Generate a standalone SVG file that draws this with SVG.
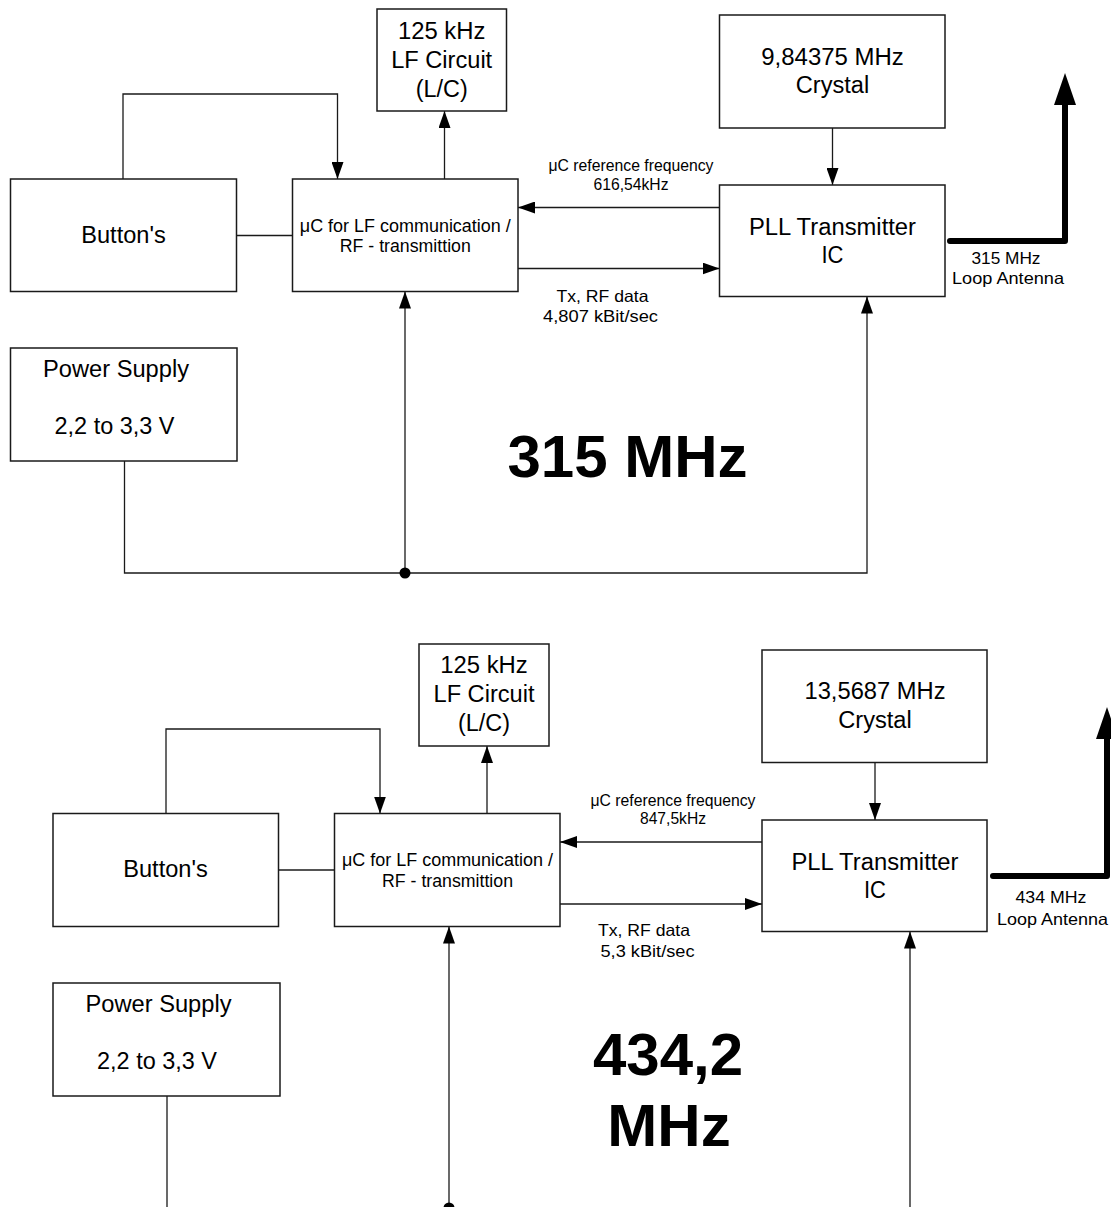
<svg xmlns="http://www.w3.org/2000/svg" width="1111" height="1207" viewBox="0 0 1111 1207">
<style>
.box{fill:#fff;stroke:#1a1a1a;stroke-width:1.5}
.ln{fill:none;stroke:#1a1a1a;stroke-width:1.3}
.arr{marker-end:url(#ah)}
.ant{fill:none;stroke:#000;stroke-width:6;stroke-linecap:round;stroke-linejoin:round;marker-end:url(#aah)}
text{font-family:"Liberation Sans",Arial,sans-serif;fill:#000;text-anchor:middle}
.tb{font-size:23.5px}
.tu{font-size:17.5px}
.ts{font-size:16.5px}
.big{font-size:60px;font-weight:bold}
</style>
<defs>
<marker id="ah" markerUnits="userSpaceOnUse" markerWidth="17" markerHeight="12" refX="17" refY="6" orient="auto" viewBox="0 0 17 12">
<path d="M0,0 L17,6 L0,12 z" fill="#000"/>
</marker>
<marker id="aah" markerUnits="userSpaceOnUse" markerWidth="32" markerHeight="22" refX="0" refY="11" orient="auto" viewBox="0 0 32 22">
<path d="M0,0 L32,11 L0,22 z" fill="#000"/>
</marker>
</defs>

<g id="connectors">
<!-- top (315 MHz) -->
<path class="ln arr" d="M123,179 V94 H337.5 V179"/>
<path class="ln" d="M236.5,235.5 H292.5"/>
<path class="ln arr" d="M444.5,179 V111"/>
<path class="ln arr" d="M719.5,207.5 H518"/>
<path class="ln arr" d="M518,268.5 H719.5"/>
<path class="ln arr" d="M832.5,128 V185"/>
<path class="ln arr" d="M124.5,461 V573 H867 V296.5"/>
<path class="ln arr" d="M405,573 V291.5"/>
<circle cx="405" cy="573" r="5.5" fill="#000"/>
<path class="ant" d="M950,241 H1065 V105"/>
<!-- bottom (434,2 MHz) -->
<path class="ln arr" d="M166,813.5 V729 H380 V813.5"/>
<path class="ln" d="M278.5,870 H334.5"/>
<path class="ln arr" d="M487,813.5 V746"/>
<path class="ln arr" d="M762,842 H560"/>
<path class="ln arr" d="M560,904 H762"/>
<path class="ln arr" d="M875,762.5 V820"/>
<path class="ln arr" d="M167,1096 V1209 H910 V931.5"/>
<path class="ln arr" d="M449,1209 V926.5"/>
<circle cx="449" cy="1208" r="5.5" fill="#000"/>
<path class="ant" d="M993,876 H1107 V739"/>
</g>

<!-- top half nodes -->
<g id="lf1"><rect class="box" x="377" y="9" width="129.5" height="102"/>
<text class="tb" x="441.7" y="38.5" textLength="87.5" lengthAdjust="spacingAndGlyphs">125 kHz</text>
<text class="tb" x="441.7" y="67.5" textLength="101" lengthAdjust="spacingAndGlyphs">LF Circuit</text>
<text class="tb" x="441.7" y="96.5" textLength="52" lengthAdjust="spacingAndGlyphs">(L/C)</text></g>
<g id="buttons1"><rect class="box" x="10.5" y="179" width="226" height="112.5"/>
<text class="tb" x="123.5" y="242.5" textLength="84.5" lengthAdjust="spacingAndGlyphs">Button's</text></g>
<g id="uc1"><rect class="box" x="292.5" y="179" width="225.5" height="112.5"/>
<text class="tu" x="405.3" y="231.5" textLength="211" lengthAdjust="spacingAndGlyphs">μC for LF communication /</text>
<text class="tu" x="405.3" y="251.7" textLength="131" lengthAdjust="spacingAndGlyphs">RF - transmittion</text></g>
<g id="crystal1"><rect class="box" x="719.5" y="15" width="225.5" height="113"/>
<text class="tb" x="832.5" y="64.5" textLength="142.5" lengthAdjust="spacingAndGlyphs">9,84375 MHz</text>
<text class="tb" x="832.5" y="92.5" textLength="73.5" lengthAdjust="spacingAndGlyphs">Crystal</text></g>
<g id="pll1"><rect class="box" x="719.5" y="185" width="225.5" height="111.5"/>
<text class="tb" x="832.5" y="235" textLength="167" lengthAdjust="spacingAndGlyphs">PLL Transmitter</text>
<text class="tb" x="832.5" y="263.3" textLength="22" lengthAdjust="spacingAndGlyphs">IC</text></g>
<g id="power1"><rect class="box" x="10.5" y="348" width="226.5" height="113"/>
<text class="tb" x="116" y="376.7" textLength="146" lengthAdjust="spacingAndGlyphs">Power Supply</text>
<text class="tb" x="114.5" y="434" textLength="120" lengthAdjust="spacingAndGlyphs">2,2 to 3,3 V</text></g>
<g id="labels1">
<text class="ts" x="631" y="170.7" textLength="165" lengthAdjust="spacingAndGlyphs">μC reference frequency</text>
<text class="ts" x="631" y="190" textLength="75" lengthAdjust="spacingAndGlyphs">616,54kHz</text>
<text class="ts" x="602.5" y="301.7" textLength="92" lengthAdjust="spacingAndGlyphs">Tx, RF data</text>
<text class="ts" x="600.5" y="321.7" textLength="115" lengthAdjust="spacingAndGlyphs">4,807 kBit/sec</text>
<text class="ts" x="1006" y="264" textLength="69" lengthAdjust="spacingAndGlyphs">315 MHz</text>
<text class="ts" x="1008" y="283.5" textLength="112" lengthAdjust="spacingAndGlyphs">Loop Antenna</text>
<text class="big" x="627.5" y="476.5">315 MHz</text>
</g>

<!-- bottom half nodes -->
<g id="lf2"><rect class="box" x="419" y="644" width="130" height="102"/>
<text class="tb" x="484" y="673" textLength="87.5" lengthAdjust="spacingAndGlyphs">125 kHz</text>
<text class="tb" x="484" y="702" textLength="101" lengthAdjust="spacingAndGlyphs">LF Circuit</text>
<text class="tb" x="484" y="730.5" textLength="52" lengthAdjust="spacingAndGlyphs">(L/C)</text></g>
<g id="buttons2"><rect class="box" x="53" y="813.5" width="225.5" height="113"/>
<text class="tb" x="165.5" y="877" textLength="84.5" lengthAdjust="spacingAndGlyphs">Button's</text></g>
<g id="uc2"><rect class="box" x="334.5" y="813.5" width="225.5" height="113"/>
<text class="tu" x="447.5" y="866" textLength="211" lengthAdjust="spacingAndGlyphs">μC for LF communication /</text>
<text class="tu" x="447.5" y="886.5" textLength="131" lengthAdjust="spacingAndGlyphs">RF - transmittion</text></g>
<g id="crystal2"><rect class="box" x="762" y="650" width="225" height="112.5"/>
<text class="tb" x="875" y="699" textLength="141" lengthAdjust="spacingAndGlyphs">13,5687 MHz</text>
<text class="tb" x="875" y="727.5" textLength="73.5" lengthAdjust="spacingAndGlyphs">Crystal</text></g>
<g id="pll2"><rect class="box" x="762" y="820" width="225" height="111.5"/>
<text class="tb" x="875" y="870" textLength="167" lengthAdjust="spacingAndGlyphs">PLL Transmitter</text>
<text class="tb" x="875" y="898.3" textLength="22" lengthAdjust="spacingAndGlyphs">IC</text></g>
<g id="power2"><rect class="box" x="53" y="983" width="227" height="113"/>
<text class="tb" x="158.5" y="1011.7" textLength="146" lengthAdjust="spacingAndGlyphs">Power Supply</text>
<text class="tb" x="157" y="1069" textLength="120" lengthAdjust="spacingAndGlyphs">2,2 to 3,3 V</text></g>
<g id="labels2">
<text class="ts" x="673" y="805.5" textLength="165" lengthAdjust="spacingAndGlyphs">μC reference frequency</text>
<text class="ts" x="673" y="824" textLength="66" lengthAdjust="spacingAndGlyphs">847,5kHz</text>
<text class="ts" x="644" y="936" textLength="92" lengthAdjust="spacingAndGlyphs">Tx, RF data</text>
<text class="ts" x="647.5" y="956.5" textLength="94" lengthAdjust="spacingAndGlyphs">5,3 kBit/sec</text>
<text class="ts" x="1051" y="903" textLength="71" lengthAdjust="spacingAndGlyphs">434 MHz</text>
<text class="ts" x="1052.5" y="924.5" textLength="111" lengthAdjust="spacingAndGlyphs">Loop Antenna</text>
<text class="big" x="668" y="1075">434,2</text>
<text class="big" x="669" y="1145.5">MHz</text>
</g>
</svg>
